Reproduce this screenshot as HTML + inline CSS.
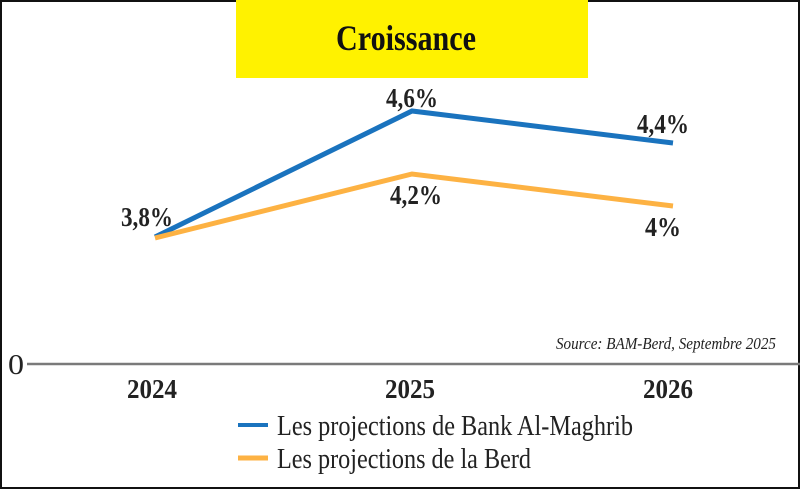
<!DOCTYPE html>
<html><head><style>
html,body{margin:0;padding:0;background:#fff;}
svg{display:block;}
text{font-family:"Liberation Serif",serif;}
</style></head><body>
<svg width="800" height="489" viewBox="0 0 800 489" xmlns="http://www.w3.org/2000/svg">
<rect x="1" y="1" width="798" height="487" fill="#fff" stroke="#111" stroke-width="2"/>
<rect x="236" y="0" width="352" height="78" fill="#fff200"/>
<text x="406" y="50" font-size="36" font-weight="bold" text-anchor="middle" fill="#111" textLength="140" lengthAdjust="spacingAndGlyphs">Croissance</text>
<line x1="27" y1="364" x2="800" y2="364" stroke="#7a7a7a" stroke-width="2.5"/>
<text x="8" y="374" font-size="28" fill="#222" textLength="16" lengthAdjust="spacingAndGlyphs">0</text>
<polyline points="155,237 412,111 673,143" fill="none" stroke="#1a73be" stroke-width="5"/>
<polyline points="155,238 412,174 673,206" fill="none" stroke="#fdb243" stroke-width="5"/>
<g font-size="27" font-weight="bold" fill="#222" text-anchor="middle">
<text x="147" y="226" textLength="52" lengthAdjust="spacingAndGlyphs">3,8%</text>
<text x="412" y="107" textLength="52" lengthAdjust="spacingAndGlyphs">4,6%</text>
<text x="663" y="133" textLength="52" lengthAdjust="spacingAndGlyphs">4,4%</text>
<text x="416" y="204" textLength="52" lengthAdjust="spacingAndGlyphs">4,2%</text>
<text x="663" y="236" textLength="36" lengthAdjust="spacingAndGlyphs">4%</text>
<text x="152" y="398" textLength="50" lengthAdjust="spacingAndGlyphs">2024</text>
<text x="410" y="398" textLength="50" lengthAdjust="spacingAndGlyphs">2025</text>
<text x="668" y="398" textLength="50" lengthAdjust="spacingAndGlyphs">2026</text>
</g>
<text x="776" y="349" font-size="17" font-style="italic" fill="#222" text-anchor="end" textLength="220" lengthAdjust="spacingAndGlyphs">Source: BAM-Berd, Septembre 2025</text>
<line x1="238" y1="425" x2="268" y2="425" stroke="#1a73be" stroke-width="4"/>
<line x1="238" y1="458" x2="268" y2="458" stroke="#fdb243" stroke-width="5"/>
<text x="277" y="435" font-size="29" fill="#222" textLength="356" lengthAdjust="spacingAndGlyphs">Les projections de Bank Al-Maghrib</text>
<text x="277" y="468" font-size="29" fill="#222" textLength="254" lengthAdjust="spacingAndGlyphs">Les projections de la Berd</text>
</svg>
</body></html>
